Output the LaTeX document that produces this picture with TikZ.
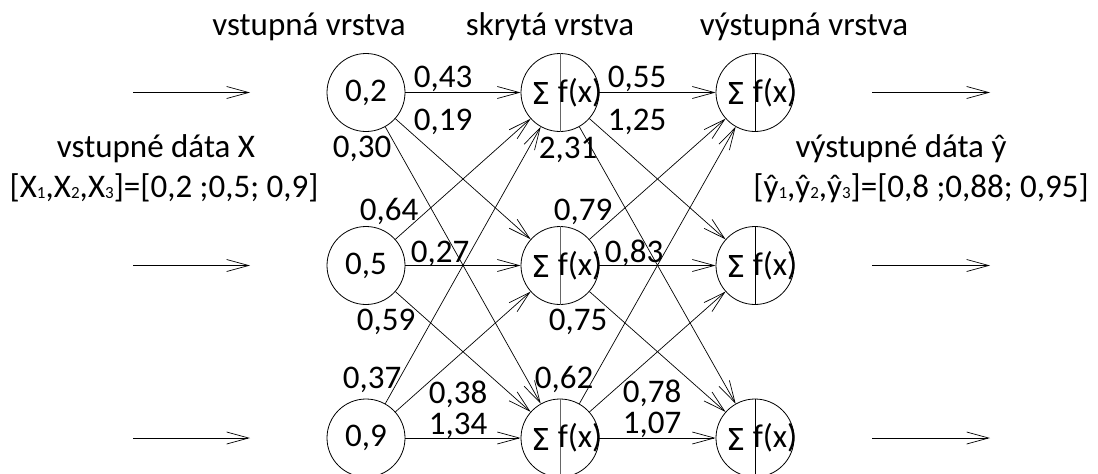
\documentclass[tikz,border=0pt]{standalone}
\usepackage{fontspec}
\setmainfont{Carlito}
\newfontfamily\sigfont{DejaVu Sans}
\usetikzlibrary{arrows.meta}
\newcommand{\mysub}[1]{\raisebox{-1pt}{\fontsize{17}{17}\selectfont #1}}
\newcommand{\sigglyph}{\resizebox{19pt}{22pt}{\sigfont\symbol{"03A3}}}
\begin{document}
\begin{tikzpicture}[x=1pt,y=-1pt,
  every node/.style={font=\fontsize{33}{36}\selectfont, inner sep=0pt},
  neuron/.style={circle,draw,line width=0.8pt,minimum size=78pt},
  conn/.style={line width=0.7pt,-{Straight Barb[length=22pt,width=12pt,line width=0.7pt]}},
  wlabel/.style={anchor=base},
  divider/.style={draw=black!60,line width=1pt}]
\useasboundingbox (0,0) rectangle (1098,474);
% titles
\node[wlabel] (t1) at (309,35) {vstupná vrstva};
\node[wlabel] (t2) at (550,35) {skrytá vrstva};
\node[wlabel] (t3) at (804,35) {výstupná vrstva};
\node[wlabel] (lx1) at (156,157) {vstupné dáta X};
\node[wlabel] (lx2) at (164,197) {[X\mysub{1},X\mysub{2},X\mysub{3}]=[0,2 ;0,5; 0,9]};
\node[wlabel] (ly1) at (901,157) {výstupné dáta ŷ};
\node[wlabel] (ly2) at (921,197) {[ŷ\mysub{1},ŷ\mysub{2},ŷ\mysub{3}]=[0,8 ;0,88; 0,95]};
% neurons
\foreach \n/\y/\v in {1/92.5/{0,2},2/265.5/{0,5},3/438/{0,9}}{
  \node[neuron] (i\n) at (366,\y) {\v};
  \node[neuron] (h\n) at (560,\y) {};
  \node[neuron] (o\n) at (755,\y) {};
  \draw[divider] (h\n.north) -- (h\n.south);
  \draw[divider,draw=black] (o\n.north) -- (o\n.south);
  \node (hs\n) at (541,\y+1) {\sigglyph};
  \node (hf\n) at (580,\y) {f(x)};
  \node (os\n) at (736,\y+1) {\sigglyph};
  \node (of\n) at (775,\y) {f(x)};
  \coordinate (ia\n) at (133,\y);
  \coordinate (ib\n) at (250,\y);
  \coordinate (oa\n) at (872,\y);
  \coordinate (ob\n) at (990,\y);
  \draw[conn] (ia\n) -- (ib\n);
  \draw[conn] (oa\n) -- (ob\n);
}
\foreach \a in {1,2,3}{
  \foreach \b in {1,2,3}{
    \draw[conn] (i\a) -- (h\b);
    \draw[conn] (h\a) -- (o\b);
  }
}
% weights
\node[wlabel] (w1) at (443,87) {0,43};
\node[wlabel] (w2) at (443,130) {0,19};
\node[wlabel] (w3) at (362,157) {0,30};
\node[wlabel] (w4) at (568,158) {2,31};
\node[wlabel] (w5) at (389,220) {0,64};
\node[wlabel] (w6) at (583,220) {0,79};
\node[wlabel] (w7) at (440,262) {0,27};
\node[wlabel] (w8) at (634,262) {0,83};
\node[wlabel] (w9) at (386,330) {0,59};
\node[wlabel] (w10) at (578,330) {0,75};
\node[wlabel] (w11) at (372,388) {0,37};
\node[wlabel] (w12) at (458,403) {0,38};
\node[wlabel] (w13) at (564,388) {0,62};
\node[wlabel] (w14) at (652,402) {0,78};
\node[wlabel] (w15) at (458,434) {1,34};
\node[wlabel] (w16) at (652,433) {1,07};
\node[wlabel] (w17) at (637,87) {0,55};
\node[wlabel] (w18) at (637,130) {1,25};
\end{tikzpicture}
\end{document}
